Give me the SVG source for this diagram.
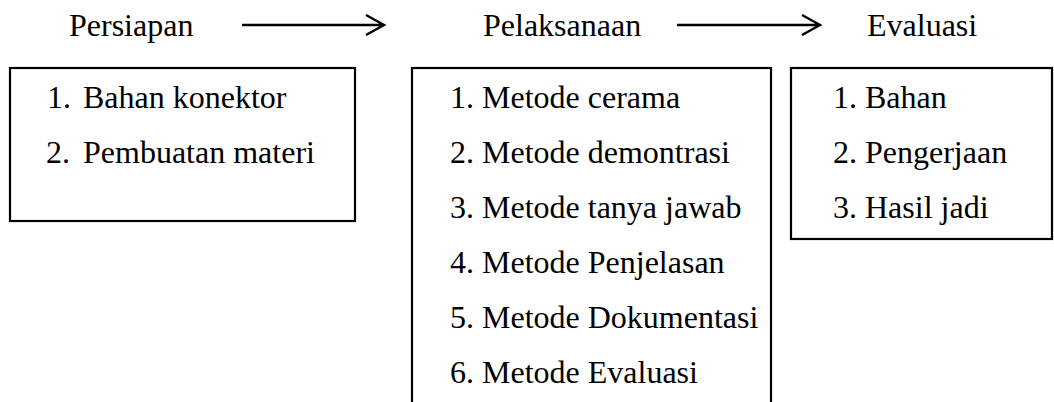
<svg xmlns="http://www.w3.org/2000/svg" width="1054" height="402" viewBox="0 0 1054 402">
<style>
.t{font-family:'Times New Roman','Liberation Serif',serif;font-size:32px;fill:#000}
.box{fill:none;stroke:#000;stroke-width:2.2}
.ln{fill:none;stroke:#000;stroke-width:2.4;stroke-linecap:butt;stroke-linejoin:miter}
</style>
<rect width="1054" height="402" fill="#fff"/>
<g class="t">
<g id="persiapan">
<text x="69" y="36">Persiapan</text>
<rect class="box" x="10" y="68" width="345" height="153"/>
<text x="47" y="108">1.</text><text x="83" y="108">Bahan konektor</text>
<text x="46" y="163">2.</text><text x="83" y="163">Pembuatan materi</text>
</g>
<g id="pelaksanaan">
<text x="483" y="36">Pelaksanaan</text>
<rect class="box" x="412" y="68" width="359" height="345"/>
<text x="450" y="108">1. Metode cerama</text>
<text x="450" y="163">2. Metode demontrasi</text>
<text x="450" y="218">3. Metode tanya jawab</text>
<text x="450" y="273">4. Metode Penjelasan</text>
<text x="450" y="328">5. Metode Dokumentasi</text>
<text x="450" y="383">6. Metode Evaluasi</text>
</g>
<g id="evaluasi">
<text x="867" y="36">Evaluasi</text>
<rect class="box" x="791" y="68" width="261" height="171"/>
<text x="833" y="108">1. Bahan</text>
<text x="833" y="163">2. Pengerjaan</text>
<text x="833" y="218">3. Hasil jadi</text>
</g>
</g>
<g id="connectors">
<path class="ln" d="M242 25H384M366 15L384 25L366 35"/>
<path class="ln" d="M677 25H819M802 15L820 25L802 35"/>
</g>
</svg>
